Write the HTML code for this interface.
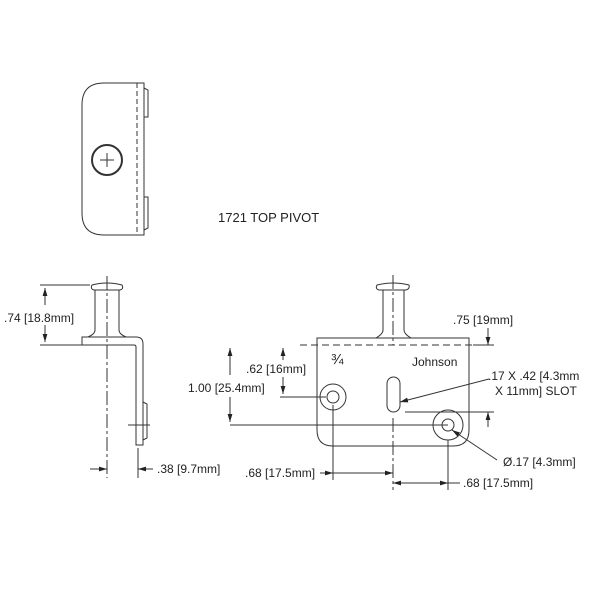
<!DOCTYPE html>
<html><head><meta charset="utf-8"><style>
html,body{margin:0;padding:0;background:#fff;}
svg{display:block;}
text{font-family:"Liberation Sans",sans-serif;font-size:12px;fill:#222;}
</style></head><body>
<svg width="600" height="600" viewBox="0 0 600 600" xmlns="http://www.w3.org/2000/svg">
<defs>
<marker id="a" viewBox="0 0 10 10" refX="10" refY="5" markerWidth="8" markerHeight="8" orient="auto-start-reverse" markerUnits="userSpaceOnUse"><path d="M0,2 L10,5 L0,8 z" fill="#222"/></marker>
</defs>
<g fill="none" stroke="#333" stroke-width="1">
<!-- top view -->
<path d="M144,83 L104,83 Q82,83 82,105 L82,213 Q82,235 104,235 L144,235 Z"/>
<line x1="137" y1="83" x2="137" y2="235" stroke-dasharray="5,3"/>
<path d="M144,88 L148,90 L148,117 L144,117"/>
<path d="M144,197 L148,197 L148,228 L144,230"/>
<circle cx="107" cy="160" r="15" stroke-width="2"/>
<line x1="100" y1="160" x2="114" y2="160"/><line x1="107" y1="153" x2="107" y2="167"/>

<!-- side view -->
<path d="M92,285 Q90,289 94,290 L120,290 Q124,289 122,285 Q107,281 92,285 Z"/>
<path d="M95,290 L95,330 Q95,334 88,337 M119,290 L119,330 Q119,334 126,337"/>
<path d="M82,337 L136,337 Q143,337 143,344 L143,445 L136,445 L136,347 Q136,345 134,345 L82,345 Z"/>
<path d="M143,402 L147,404 L147,438 L143,440"/>
<line x1="107" y1="276" x2="107" y2="478" stroke-dasharray="14,3,3,3"/>
<line x1="128" y1="425" x2="150" y2="425"/>
<line x1="40" y1="285" x2="90" y2="285"/><line x1="40" y1="345" x2="82" y2="345"/>
<line x1="45" y1="305" x2="45" y2="288" marker-end="url(#a)"/>
<line x1="45" y1="325" x2="45" y2="342" marker-end="url(#a)"/>
<line x1="138" y1="448" x2="138" y2="478"/>
<line x1="90" y1="469" x2="107" y2="469" marker-end="url(#a)"/>
<line x1="153" y1="469" x2="138" y2="469" marker-end="url(#a)"/>

<!-- front view -->
<path d="M377,285 Q375,289 379,290 L406,290 Q410,289 409,285 Q393,281 377,285 Z"/>
<path d="M383,290 L383,330 Q383,334 376,338 M404,290 L404,330 Q404,334 411,338"/>
<path d="M317,338 L469,338 L469,430 Q469,446 453,446 L333,446 Q317,446 317,430 Z"/>
<line x1="300" y1="345" x2="473" y2="345" stroke-dasharray="7,4"/>
<line x1="473" y1="345" x2="494" y2="345"/>
<line x1="393" y1="275" x2="393" y2="345" stroke-dasharray="14,3,3,3"/>
<line x1="488" y1="328" x2="488" y2="345" marker-end="url(#a)"/>
<circle cx="333" cy="397" r="13"/><circle cx="333" cy="397" r="6"/>
<circle cx="448" cy="425" r="15"/><circle cx="448" cy="425" r="6"/>
<rect x="387" y="377" width="13" height="35" rx="6.5"/>
<line x1="393" y1="418" x2="393" y2="490" stroke-dasharray="14,3,3,3"/>
<line x1="333" y1="405" x2="333" y2="480"/>
<line x1="448" y1="440" x2="448" y2="490"/>
<!-- 1.00 -->
<line x1="230" y1="425" x2="448" y2="425"/>
<line x1="230" y1="375" x2="230" y2="348" marker-end="url(#a)"/>
<line x1="230" y1="397" x2="230" y2="422" marker-end="url(#a)"/>
<!-- .62 -->
<line x1="280" y1="397" x2="326" y2="397"/>
<line x1="283" y1="360" x2="283" y2="348" marker-end="url(#a)"/>
<line x1="283" y1="377" x2="283" y2="394" marker-end="url(#a)"/>
<!-- slot -->
<line x1="489" y1="379" x2="400" y2="402" marker-end="url(#a)"/>
<line x1="405" y1="412" x2="494" y2="412"/>
<line x1="488" y1="427" x2="488" y2="412" marker-end="url(#a)"/>
<!-- dia leader -->
<line x1="497" y1="460" x2="452" y2="430" marker-end="url(#a)"/>
<!-- .68 dims -->
<line x1="320" y1="473" x2="333" y2="473" marker-end="url(#a)"/>
<line x1="333" y1="473" x2="393" y2="473" marker-end="url(#a)"/>
<line x1="393" y1="483" x2="448" y2="483" marker-start="url(#a)" marker-end="url(#a)"/>
<line x1="448" y1="483" x2="460" y2="483"/>
</g>
<text x="218" y="222" style="font-size:13px">1721 TOP PIVOT</text>
<text x="4" y="322">.74 [18.8mm]</text>
<text x="157" y="473">.38 [9.7mm]</text>
<text x="188" y="392">1.00 [25.4mm]</text>
<text x="246" y="373">.62 [16mm]</text>
<text x="453" y="324">.75 [19mm]</text>
<text x="412" y="366">Johnson</text>
<text x="331" y="364" style="font-size:15px">¾</text>
<text x="488" y="380">.17 X .42 [4.3mm</text>
<text x="495" y="395">X 11mm] SLOT</text>
<text x="503" y="466">Ø.17 [4.3mm]</text>
<text x="245" y="477">.68 [17.5mm]</text>
<text x="463" y="487">.68 [17.5mm]</text>
</svg>
</body></html>
